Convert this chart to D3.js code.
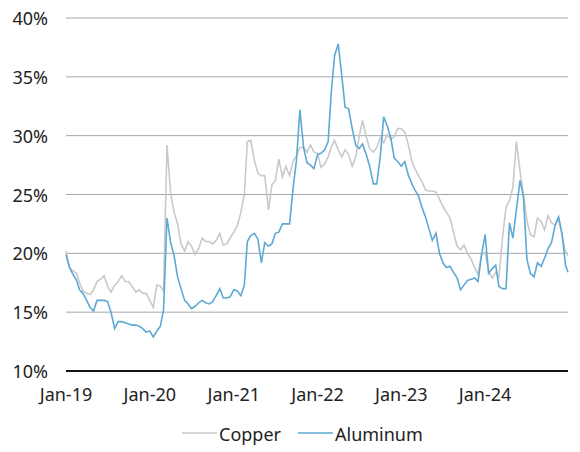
<!DOCTYPE html>
<html>
<head>
<meta charset="utf-8">
<script src="https://cdn.jsdelivr.net/npm/d3@7"></script>
<style>
  body { margin: 0; background: #fff; }
  text { font-family: "Noto Sans", sans-serif; fill: #222; }
</style>
</head>
<body>
<svg id="chart"></svg>
<script>
// semi-monthly observations, Jan 2019 - Dec 2024
const startDate = '2019-01-01';
const lastDate = '2024-12-27';
const yTicks = [10, 15, 20, 25, 30, 35, 40];
const xTickLabels = ['Jan-19', 'Jan-20', 'Jan-21', 'Jan-22', 'Jan-23', 'Jan-24'];
const seriesNames = ['Copper', 'Aluminum'];

const copper = [
  20.2, 18.8, 18.5, 18.3, 17.5, 16.8, 16.6, 16.5, 16.9, 17.6, 17.8, 18.1,
  17.2, 16.7, 17.3, 17.6, 18.1, 17.6, 17.6, 17.2, 16.7, 16.9, 16.6, 16.6,
  16.0, 15.4, 17.3, 17.2, 16.8, 29.2, 25.1, 23.5, 22.5, 20.8, 20.2, 21.0,
  20.6, 19.9, 20.4, 21.3, 21.0, 21.0, 20.8, 21.1, 21.7, 20.7, 20.8, 21.3,
  21.8, 22.3, 23.5, 25.0, 29.5, 29.6, 27.9, 26.8, 26.6, 26.6, 23.7, 25.8,
  26.2, 28.0, 26.5, 27.4, 26.6, 27.8, 28.3, 29.0, 29.0, 28.6, 29.2, 28.6,
  28.5, 27.3, 27.6, 28.2, 29.0, 29.6, 28.8, 28.2, 28.8, 28.4, 27.4, 28.2,
  29.9, 31.3, 29.9, 28.9, 28.6, 29.0, 29.8, 29.4, 30.1, 29.7, 29.9, 30.6,
  30.6, 30.3, 29.2, 27.8, 27.2, 26.6, 26.1, 25.4, 25.3, 25.3, 25.2, 24.6,
  24.0, 23.5, 23.0, 21.8, 20.6, 20.3, 20.7, 20.0, 19.5, 18.8, 18.2, 19.9,
  20.1, 18.5, 17.9, 18.4, 18.0, 21.2, 23.9, 24.5, 25.6, 29.5, 27.0, 25.0,
  22.8, 21.6, 21.4, 23.0, 22.7, 22.0, 23.2, 22.6, 22.4, 22.9, 21.5, 20.2,
  19.8
];

const aluminum = [
  19.9, 18.8, 18.2, 17.7, 16.9, 16.6, 16.0, 15.4, 15.1, 16.0, 16.0, 16.0,
  15.9, 15.0, 13.6, 14.2, 14.2, 14.1, 14.0, 13.9, 13.9, 13.8, 13.6, 13.3,
  13.4, 12.9, 13.4, 13.8, 15.2, 23.0, 20.9, 19.8, 18.0, 17.0, 16.0, 15.7,
  15.3, 15.5, 15.8, 16.0, 15.8, 15.7, 15.9, 16.4, 17.0, 16.2, 16.2, 16.3,
  16.9, 16.8, 16.4, 17.3, 21.0, 21.5, 21.7, 21.2, 19.2, 20.9, 20.6, 20.8,
  21.7, 21.8, 22.5, 22.5, 22.5, 25.5, 27.9, 32.2, 29.0, 27.7, 27.5, 27.2,
  28.4, 28.5, 28.8, 29.5, 33.5, 36.8, 37.8, 35.2, 32.4, 32.3, 30.6, 29.2,
  28.9, 29.3, 28.4, 27.4, 25.9, 25.9, 28.2, 31.6, 30.8, 29.8, 28.1, 27.8,
  27.4, 27.8, 26.6, 25.9, 25.4, 24.9, 23.9, 23.1, 22.1, 21.1, 21.7, 20.0,
  19.2, 18.8, 18.9, 18.4, 17.9, 16.9, 17.3, 17.7, 17.8, 17.9, 17.6, 19.8,
  21.6, 18.3, 18.7, 19.0, 17.2, 17.0, 17.0, 22.6, 21.3, 23.7, 26.2, 24.8,
  19.5, 18.3, 18.0, 19.2, 18.9, 19.6, 20.4, 20.9, 22.4, 23.1, 21.7, 19.0,
  18.4
];

const width = 580, height = 452;
const margin = { top: 18, right: 12, bottom: 81, left: 66 };

// dates: 1st and 16th of each month, plus the last observation
const dates = [];
for (let i = 0; i < copper.length - 1; i++) {
  const m = Math.floor(i / 2);
  dates.push(new Date(2019, m, i % 2 === 0 ? 1 : 16));
}
dates.push(new Date(lastDate));

const svg = d3.select('#chart')
  .attr('width', width)
  .attr('height', height);

const x = d3.scaleTime()
  .domain([new Date(startDate), dates[dates.length - 1]])
  .range([margin.left, width - margin.right]);

const y = d3.scaleLinear()
  .domain([10, 40])
  .range([height - margin.bottom, margin.top]);

// gridlines + y labels
svg.append('g')
  .selectAll('line')
  .data(yTicks.filter(d => d > 10))
  .enter()
  .append('line')
  .attr('x1', margin.left)
  .attr('x2', width - margin.right)
  .attr('y1', d => y(d))
  .attr('y2', d => y(d))
  .attr('stroke', '#a6a6a6')
  .attr('stroke-width', 1);

svg.append('g')
  .selectAll('text')
  .data(yTicks)
  .enter()
  .append('text')
  .attr('x', 48)
  .attr('y', d => y(d) + 7)
  .attr('text-anchor', 'end')
  .style('font-size', '18px')
  .text(d => d + '%');

// lines
const line = d3.line()
  .x((d, i) => x(dates[i]))
  .y(d => y(d));

svg.append('path')
  .datum(copper)
  .attr('d', line)
  .attr('fill', 'none')
  .attr('stroke', '#c9c9c9')
  .attr('stroke-width', 1.6);

svg.append('path')
  .datum(aluminum)
  .attr('d', line)
  .attr('fill', 'none')
  .attr('stroke', '#5ea9d4')
  .attr('stroke-width', 1.6);

// baseline
svg.append('line')
  .attr('x1', margin.left)
  .attr('x2', width - margin.right)
  .attr('y1', y(10))
  .attr('y2', y(10))
  .attr('stroke', '#111')
  .attr('stroke-width', 2);

// x labels
svg.append('g')
  .selectAll('text')
  .data(xTickLabels)
  .enter()
  .append('text')
  .attr('x', (d, i) => x(new Date(2019 + i, 0, 1)))
  .attr('y', 401)
  .attr('text-anchor', 'middle')
  .style('font-size', '18px')
  .text(d => d);

// legend
const legendColors = ['#c9c9c9', '#5ea9d4'];
const legendX = [182, 298];
const legend = svg.selectAll('.legend')
  .data(seriesNames)
  .enter()
  .append('g')
  .attr('class', 'legend')
  .attr('transform', (d, i) => `translate(${legendX[i]}, 433)`);

legend.append('line')
  .attr('x1', 0)
  .attr('x2', 35)
  .attr('stroke', (d, i) => legendColors[i])
  .attr('stroke-width', 1.6);

legend.append('text')
  .attr('x', 37)
  .attr('y', 8)
  .style('font-size', '18px')
  .text(d => d);
</script>
</body>
</html>
